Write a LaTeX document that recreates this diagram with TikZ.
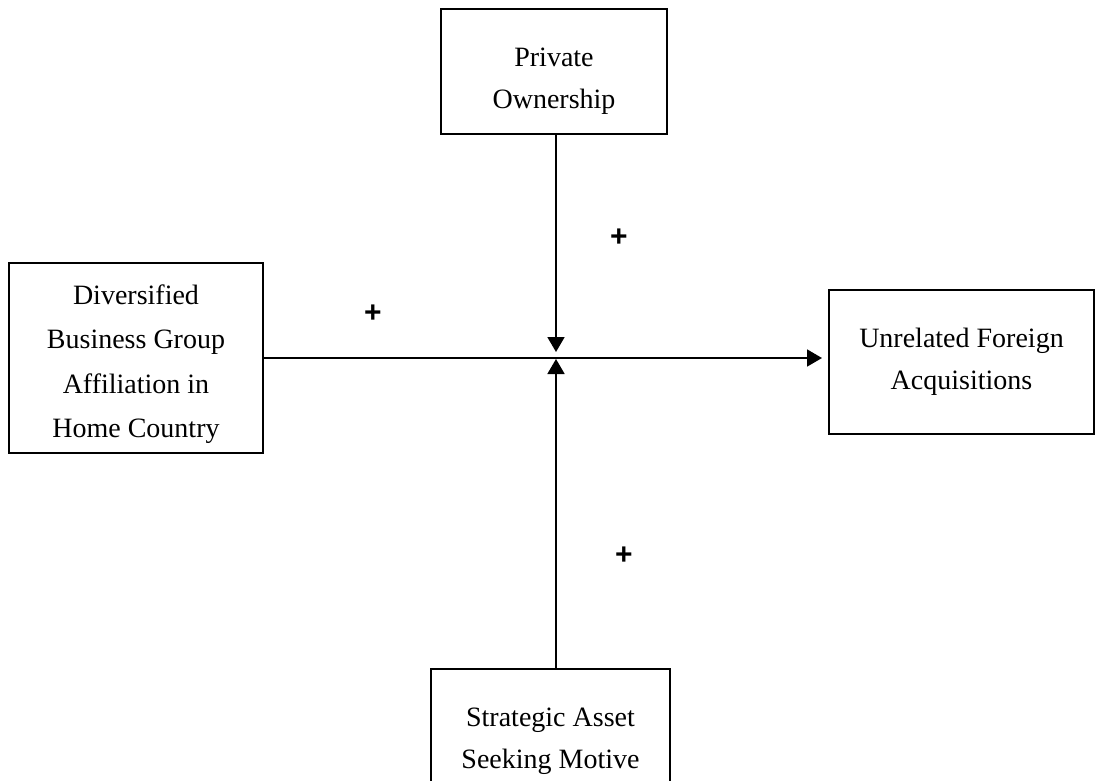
\documentclass[tikz,border=0pt]{standalone}
\usepackage{fontspec}
\setmainfont{Liberation Serif}
\setsansfont{Liberation Sans}
\usetikzlibrary{arrows.meta}
\begin{document}
\begin{tikzpicture}[x=1pt,y=-1pt,
  box/.style={draw,line width=2pt,inner sep=0pt},
  txt/.style={align=center,inner sep=0pt,font=\fontsize{28}{42}\selectfont},
  arr/.style={line width=1.8pt,-{Triangle[length=15pt,width=17pt]}},
  sign/.style={inner sep=0pt,font=\sffamily\bfseries\fontsize{30}{30}\selectfont}]
\clip (0,0) rectangle (1098,780);
% boxes
\node[box,minimum width=226pt,minimum height=125pt] (po) at (554,71.5) {};
\node[txt] (pot) at (554,81.5) {Private\\Ownership};
\node[box,minimum width=254pt,minimum height=190pt] (dbg) at (136,358) {};
\node[txt,font=\fontsize{28}{44.5}\selectfont] (dbgt) at (136,364) {Diversified\\Business Group\\Affiliation in\\Home Country};
\node[box,minimum width=265pt,minimum height=144pt] (ufa) at (961.5,362) {};
\node[txt] (ufat) at (961.5,361.5) {Unrelated Foreign\\Acquisitions};
\node[box,minimum width=239pt,minimum height=125pt] (sas) at (550.5,731.5) {};
\node[txt] (sast) at (550.5,741) {Strategic Asset\\Seeking Motive};
% junction
\coordinate (c) at (556,358);
% connectors
\draw[arr,shorten >=6pt] (dbg.east |- c) -- (ufa.west |- c);
\draw[arr,shorten >=6pt] (c |- po.south) -- (c);
\draw[arr,shorten >=1pt] (c |- sas.north) -- (c);
% signs
\node[sign] (s1) at (619,238) {+};
\node[sign] (s2) at (373,314) {+};
\node[sign] (s3) at (624,556) {+};
\end{tikzpicture}
\end{document}
